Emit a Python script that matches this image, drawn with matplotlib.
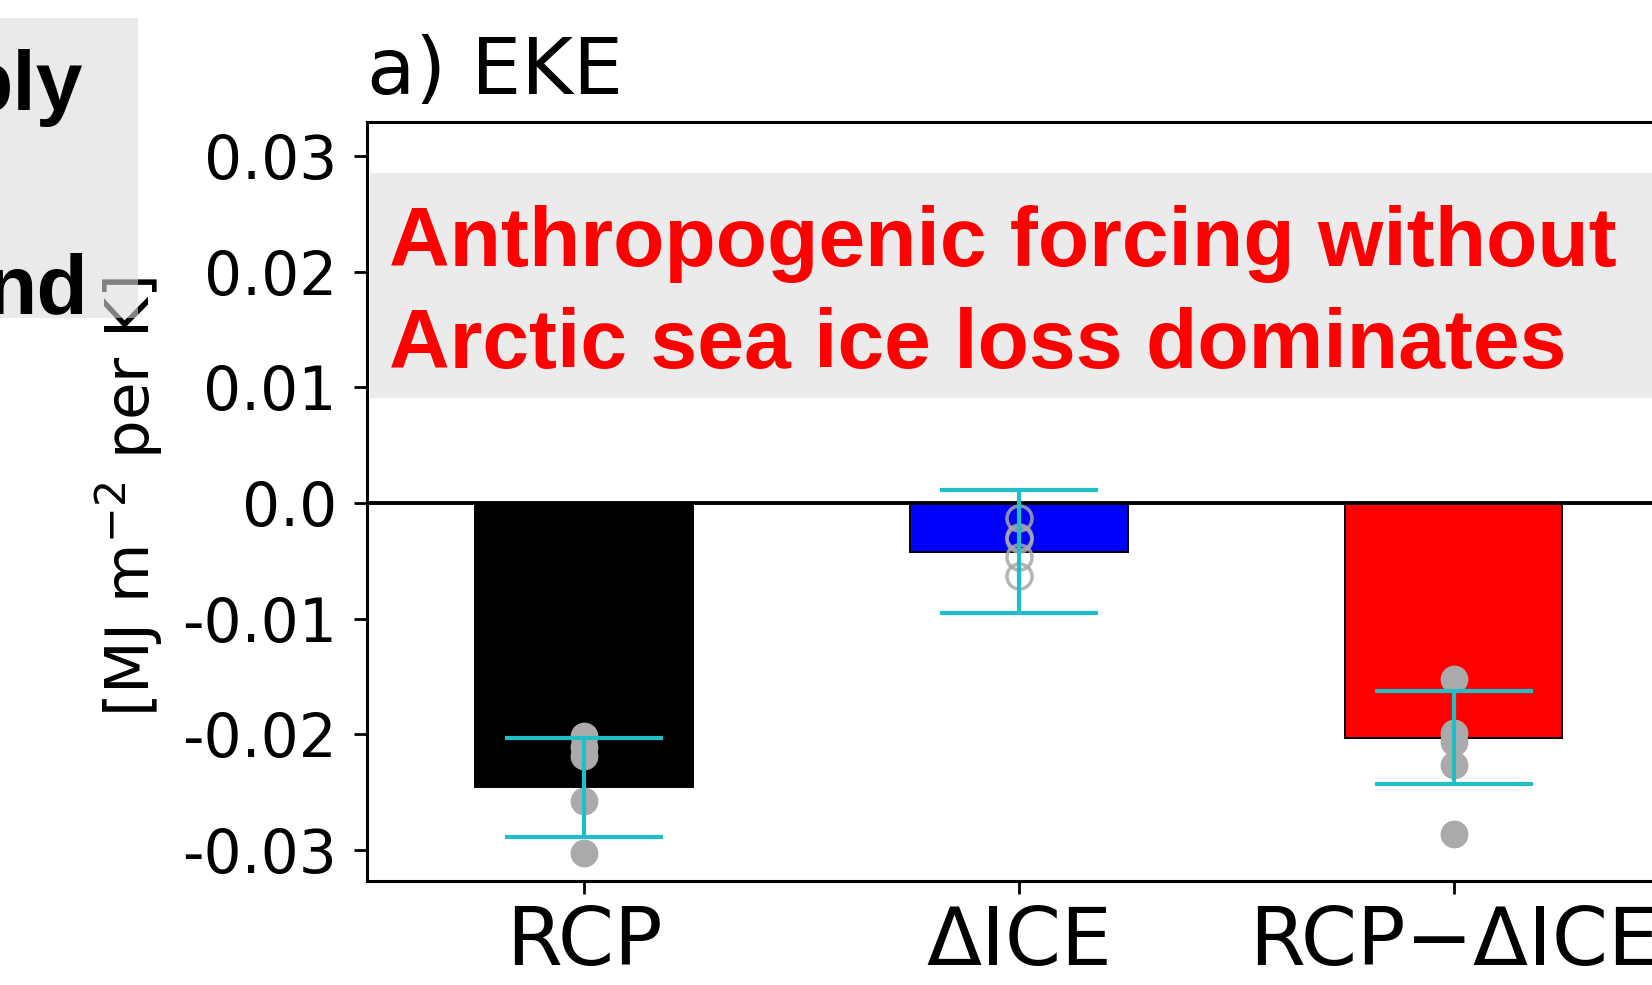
import numpy as np
import matplotlib.pyplot as plt
from matplotlib.patches import Rectangle

W, H = 1652, 985

# Bar data: ensemble mean change per K of warming
labels = ['RCP', '\u0394ICE', 'RCP\u2212\u0394ICE']
means = [-0.0246, -0.0042, -0.0203]
errs = [0.0043, 0.0053, 0.0040]
bar_colors = ['black', 'blue', 'red']

# Individual ensemble members
members_rcp = [-0.0202, -0.0211, -0.0219, -0.0258, -0.0303]
members_ice = [-0.0013, -0.0029, -0.0031, -0.0047, -0.0063]
members_diff = [-0.0152, -0.0199, -0.0207, -0.0227, -0.0286]

yticks = [-0.03, -0.02, -0.01, 0.0, 0.01, 0.02, 0.03]
ytick_labels = ['-0.03', '-0.02', '-0.01', '0.0', '0.01', '0.02', '0.03']

title = 'a) EKE'
ylabel = r'[MJ m$^{-2}$ per K]'
note_lines = ['Anthropogenic forcing without', 'Arctic sea ice loss dominates']
side_lines = ['ply', 'nd']


def fx(x):
    return x / W


def fy(y):
    return 1 - y / H


fig = plt.figure(figsize=(W / 100, H / 100), dpi=100)
ax = fig.add_axes([fx(366.7), fy(881), (1671 - 366.7) / W, (881 - 121.5) / H])

x = np.arange(len(labels))
ax.bar(x, means, width=0.5, color=bar_colors, edgecolor='black', linewidth=1.4, zorder=2)
ax.axhline(0, color='black', lw=2.8, zorder=3)

for xi, vals, hollow in zip(x, [members_rcp, members_ice, members_diff], [False, True, False]):
    if hollow:
        ax.plot([xi] * len(vals), vals, 'o', ms=18, mfc='none', mec='#a8a8a8',
                mew=2.5, alpha=0.85, zorder=4)
    else:
        ax.plot([xi] * len(vals), vals, 'o', ms=19, color='#aaaaaa', zorder=4)

ax.errorbar(x, means, yerr=errs, fmt='none', ecolor='#1ebfc6', elinewidth=3,
            capsize=57, capthick=3, zorder=5)

ax.set_xlim(-0.5, 2.5)
ax.set_ylim(-0.0327, 0.0330)
ax.set_yticks(yticks)
ax.set_yticklabels(ytick_labels)
ax.set_xticks(x)
ax.set_xticklabels(labels)
ax.tick_params(axis='y', labelsize=43, length=9.5, width=2, pad=12)
ax.tick_params(axis='x', labelsize=58, length=9.5, width=2, pad=7)
for s in ax.spines.values():
    s.set_linewidth(2.2)

ax.set_title(title, loc='left', fontsize=57, pad=20)
ax.set_ylabel(ylabel, fontsize=44)
ax.yaxis.set_label_coords(-0.155, 0.505)

# Slide overlays
fig.add_artist(Rectangle((fx(370), fy(398)), (W - 370) / W, (398 - 172.7) / H,
                         transform=fig.transFigure, facecolor='#ebebeb',
                         edgecolor='none', zorder=5))
for line, base in zip(note_lines, [266, 368.3]):
    fig.text(fx(389), fy(base), line, color='red', fontsize=60.5, fontweight='bold',
             family='Liberation Sans', va='baseline', ha='left', zorder=6)

fig.add_artist(Rectangle((0, fy(318)), 138 / W, (318 - 18) / H,
                         transform=fig.transFigure, facecolor='#dcdcdc',
                         edgecolor='none', alpha=0.59, zorder=5))
for line, xr, base in zip(side_lines, [83, 88], [110, 313]):
    fig.text(fx(xr), fy(base), line, color='black', fontsize=60.5, fontweight='bold',
             family='Liberation Sans', va='baseline', ha='right', zorder=6)

fig.savefig('out.png', dpi=100)
